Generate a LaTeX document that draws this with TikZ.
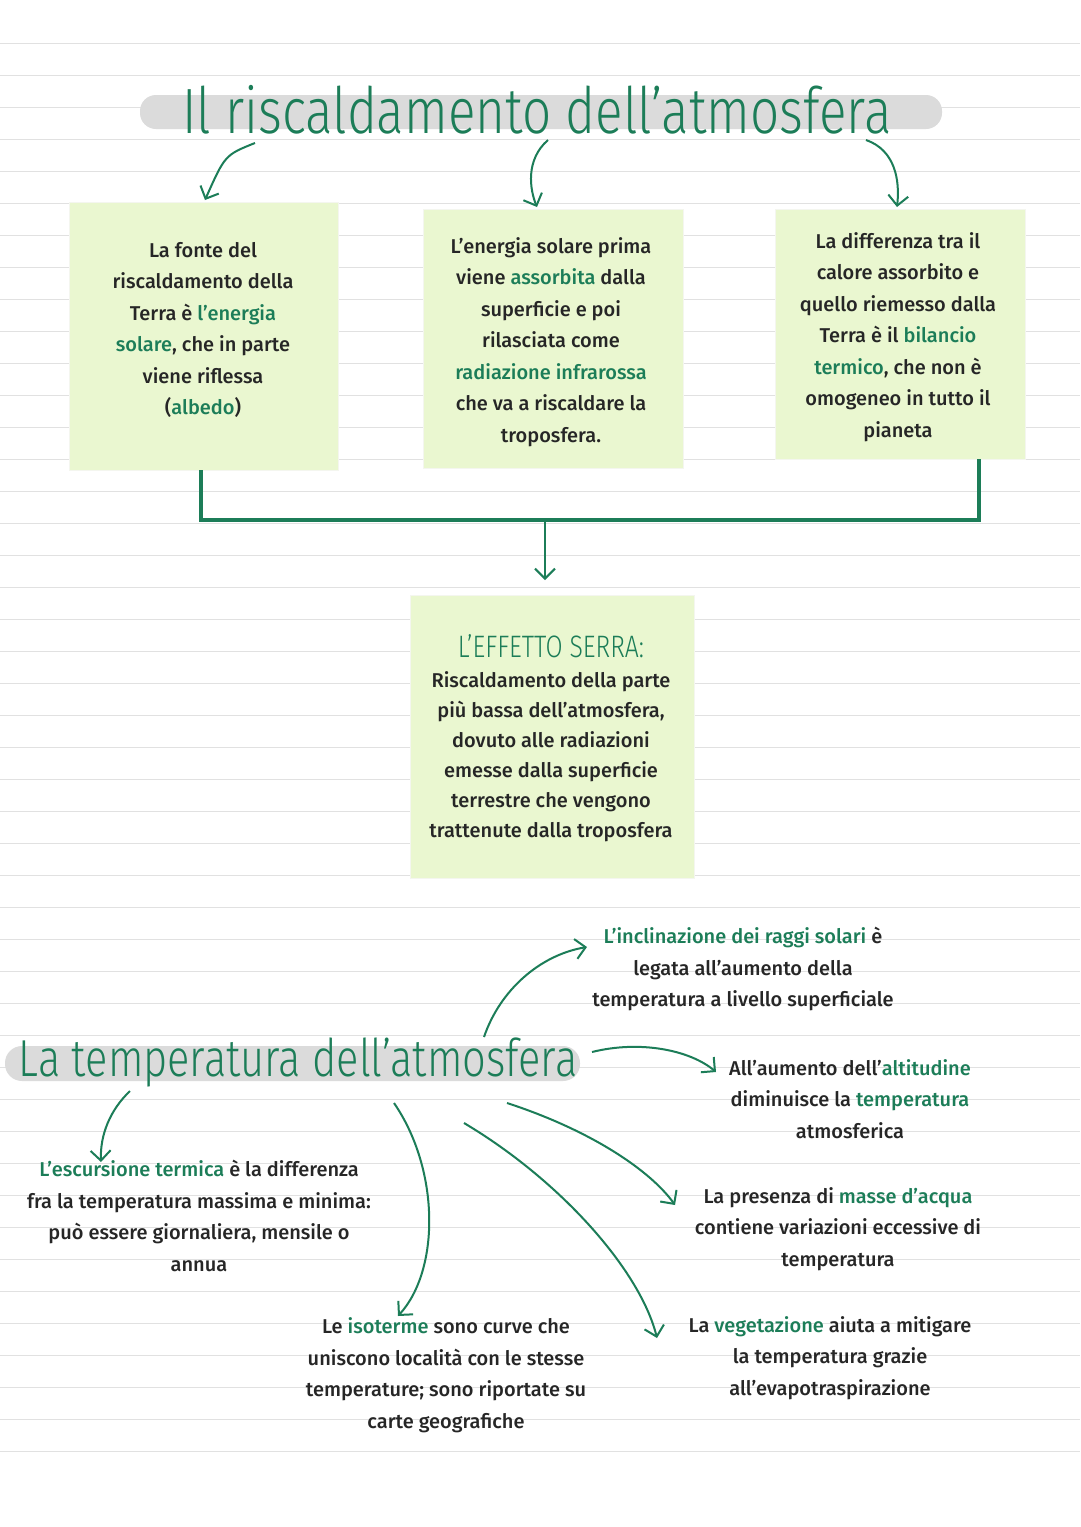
\documentclass[tikz,border=0pt]{standalone}
\usepackage{fontspec}
\setmainfont{Fira Sans}[UprightFont={* Medium}]
\newfontfamily\ttlfont{Fira Sans Light}[FakeStretch=0.8]
\usetikzlibrary{arrows.meta}
\definecolor{gr}{RGB}{28,125,88}
\definecolor{bx}{RGB}{234,247,208}
\definecolor{rule}{RGB}{225,225,225}
\newcommand{\g}[1]{\textcolor{gr}{#1}}
\tikzset{
 boxs/.style={fill=bx,draw=bx!85!black!20,line width=0.6pt},
 txt/.style={align=center,font=\fontsize{20}{31.5}\selectfont,text=black!85},
 arr/.style={draw=gr,line width=2pt,-{Straight Barb[length=10pt,width=20pt]}},
 conn/.style={draw=gr,line width=3.5pt},
 ttl/.style={text=gr,font=\ttlfont\fontsize{64}{66}\selectfont}
}
\begin{document}
\begin{tikzpicture}[x=1pt,y=-1pt]
\useasboundingbox (0,0) rectangle (1080,1527);
\fill[white] (0,0) rectangle (1080,1527);
\foreach \yy in {43,75,...,1467} \draw[rule,line width=0.8pt] (0,\yy) -- (1080,\yy);
% title
\fill[black!14,rounded corners=16pt] (140,95) rectangle (942,129);
\node[ttl] (t1) at (537,110) {Il riscaldamento dell’atmosfera};
% boxes
\fill[boxs] (69,202) rectangle (338,470);
\node[txt] (b1) at (203,330) {La fonte del\\riscaldamento della\\Terra è \g{l’energia}\\\g{solare}, che in parte\\viene riflessa\\(\g{albedo})};
\fill[boxs] (423,209) rectangle (683,468);
\node[txt] (b2) at (551,342) {L’energia solare prima\\viene \g{assorbita} dalla\\superficie e poi\\rilasciata come\\\g{radiazione infrarossa}\\che va a riscaldare la\\troposfera.};
\fill[boxs] (775,209) rectangle (1025,459);
\node[txt] (b3) at (898,337) {La differenza tra il\\calore assorbito e\\quello riemesso dalla\\Terra è il \g{bilancio}\\\g{termico}, che non è\\omogeneo in tutto il\\pianeta};
\fill[boxs] (410,595) rectangle (694,878);
\node[txt,font=\fontsize{20}{30}\selectfont] (b4) at (551,738) {{\color{gr}\ttlfont\fontsize{31}{32}\selectfont L’EFFETTO SERRA:}\\Riscaldamento della parte\\più bassa dell’atmosfera,\\dovuto alle radiazioni\\emesse dalla superficie\\terrestre che vengono\\trattenute dalla troposfera};
% arrows from title
\coordinate (a1s) at (255,143); \coordinate (a1e) at (205,200);
\draw[arr] (a1s) .. controls (225,155) .. (a1e);
\coordinate (a2s) at (548,140); \coordinate (a2e) at (537,207);
\draw[arr] (a2s) .. controls (525,160) and (530,190) .. (a2e);
\coordinate (a3s) at (866,140); \coordinate (a3e) at (897,207);
\draw[arr] (a3s) .. controls (895,150) and (900,180) .. (a3e);
% connector
\coordinate (j1) at (201,520); \coordinate (j3) at (979,520); \coordinate (jm) at (545,520);
\draw[conn] (201,470) -- (j1) -- (j3) -- (979,459);
\draw[arr] (jm) -- (545,580);
% second title
\fill[black!14,rounded corners=17pt] (5,1046) rectangle (580,1081);
\node[ttl,font=\ttlfont\fontsize{52}{54}\selectfont] (t2) at (298,1062) {La temperatura dell’atmosfera};
\node[txt] (c1) at (743,969) {\g{L’inclinazione dei raggi solari} è\\legata all’aumento della\\temperatura a livello superficiale};
\node[txt] (c2) at (850,1099) {All’aumento dell’\g{altitudine}\\diminuisce la \g{temperatura}\\atmosferica};
\node[txt] (c3) at (838,1229) {La presenza di \g{masse d’acqua}\\contiene variazioni eccessive di\\temperatura};
\node[txt] (c4) at (830,1358) {La \g{vegetazione} aiuta a mitigare\\la temperatura grazie\\all’evapotraspirazione};
\node[txt] (c5) at (446,1375) {Le \g{isoterme} sono curve che\\uniscono località con le stesse\\temperature; sono riportate su\\carte geografiche};
\node[txt] (c6) at (199,1216) {\g{L’escursione termica} è la differenza\\fra la temperatura massima e minima:\\può essere giornaliera, mensile o\\annua};
\draw[arr] (484,1037) .. controls (500,990) and (540,955) .. (587,947);
\draw[arr] (592,1052) .. controls (640,1040) and (690,1050) .. (716,1072);
\draw[arr] (507,1103) .. controls (590,1130) and (650,1170) .. (675,1205);
\draw[arr] (464,1123) .. controls (560,1180) and (640,1270) .. (657,1338);
\draw[arr] (394,1103) .. controls (440,1170) and (440,1270) .. (398,1316);
\draw[arr] (130,1091) .. controls (110,1110) and (100,1135) .. (101,1162);
\end{tikzpicture}
\end{document}
